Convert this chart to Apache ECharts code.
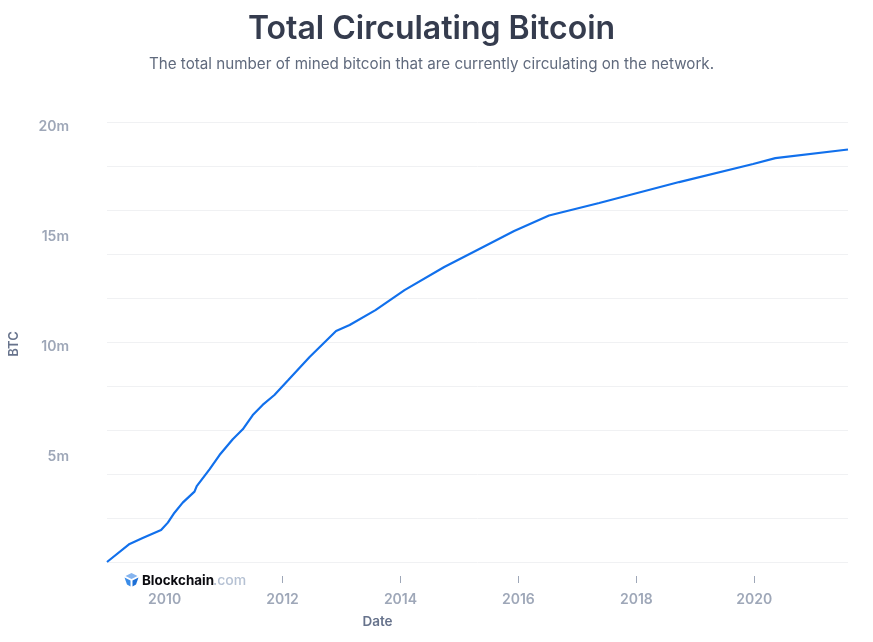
<!DOCTYPE html>
<html>
<head>
<meta charset="utf-8">
<style>
  html, body { margin: 0; padding: 0; background: #fff; }
  #chart { width: 873px; height: 642px; }
</style>
<script src="https://cdn.jsdelivr.net/npm/echarts@6/dist/echarts.min.js"></script>
</head>
<body>
<div id="chart"></div>
<script>
const dates = [
  "2009-01-09", "2009-05-29", "2009-08-18", "2009-12-10", "2010-01-21", "2010-03-03",
  "2010-04-23", "2010-07-05", "2010-07-19", "2010-10-06", "2010-12-07", "2011-02-27",
  "2011-04-30", "2011-07-01", "2011-08-31", "2011-11-12", "2012-02-06", "2012-06-17",
  "2012-11-28", "2013-02-20", "2013-07-30", "2014-01-26", "2014-09-29", "2015-05-04",
  "2015-12-06", "2016-07-09", "2017-05-16", "2018-09-23", "2019-12-25", "2020-05-11",
  "2021-08-04"
];
const btcMillions = [
  0, 0.82, 1.09, 1.45, 1.79, 2.24,
  2.70, 3.20, 3.45, 4.21, 4.86, 5.58,
  6.03, 6.68, 7.14, 7.59, 8.27, 9.32,
  10.5, 10.77, 11.45, 12.36, 13.41, 14.23,
  15.05, 15.75, 16.32, 17.27, 18.09, 18.36,
  18.75
];
const yearLabels = ["2010", "2012", "2014", "2016", "2018", "2020"];
const yearTicks = ["2012", "2014", "2016", "2018", "2020"]; // the 2010 tick sits under the logo
const valueLabels = [5, 10, 15, 20];

const toTime = (d) => new Date(d.length === 4 ? d + "-01-01T00:00:00Z" : d + "T00:00:00Z").getTime();
const xMin = toTime(dates[0]);
const xMax = toTime(dates[dates.length - 1]);
const labelColor = "#9ea7b8";
const nameColor = "#67738c";
const fontFamily = "Inter";

const chart = echarts.init(document.getElementById("chart"));
chart.setOption({
  animation: false,
  title: {
    text: "Total Circulating Bitcoin",
    subtext: "The total number of mined bitcoin that are currently circulating on the network.",
    left: 426.5,
    top: 8,
    textAlign: "center",
    itemGap: 12,
    textStyle: { fontFamily, fontSize: 32, fontWeight: 600, color: "#353c4e" },
    subtextStyle: { fontFamily, fontSize: 15.2, fontWeight: 400, color: "#606a7d" }
  },
  grid: [
    { left: 107, right: 25, top: 122, bottom: 80, outerBoundsMode: "none" },
    // thin strip below the plot, only there to carry the detached ticks
    { left: 107, right: 25, top: 575, height: 1, outerBoundsMode: "none" }
  ],
  xAxis: [
    {
      type: "value",
      min: xMin,
      max: xMax,
      offset: 14,
      splitLine: { show: false },
      axisLine: { show: false },
      axisTick: { show: false },
      axisLabel: {
        customValues: yearLabels.map(toTime),
        formatter: (v) => String(new Date(v).getUTCFullYear()),
        margin: 17,
        fontFamily,
        fontSize: 14,
        fontWeight: 600,
        color: labelColor
      },
      name: "Date",
      nameLocation: "middle",
      nameGap: 39,
      nameTextStyle: { fontFamily, fontSize: 13.5, fontWeight: 600, color: nameColor, padding: [0, 200, 0, 0] }
    },
    {
      type: "value",
      gridIndex: 1,
      min: xMin,
      max: xMax,
      splitLine: { show: false },
      axisLine: { show: false },
      axisTick: {
        show: true,
        length: 7,
        customValues: yearTicks.map(toTime),
        lineStyle: { color: "#9ea7b8", width: 1 }
      },
      axisLabel: { show: false }
    }
  ],
  yAxis: [
    {
      type: "value",
      min: 0,
      max: 20,
      interval: 2,
      splitLine: { show: true, lineStyle: { color: "#f0f1f3", width: 1 } },
      axisLine: { show: false },
      axisTick: { show: false },
      axisLabel: {
        customValues: valueLabels,
        formatter: (v) => v + "m",
        margin: 38,
        verticalAlign: "top",
        lineHeight: 10,
        fontFamily,
        fontSize: 14,
        fontWeight: 600,
        color: labelColor
      },
      name: "BTC",
      nameLocation: "middle",
      nameGap: 86,
      nameTextStyle: { fontFamily, fontSize: 13, fontWeight: 600, color: nameColor, padding: [0, 4, 0, 0] }
    },
    { type: "value", gridIndex: 1, show: false }
  ],
  series: [{
    type: "line",
    data: dates.map((d, i) => [toTime(d), btcMillions[i]]),
    showSymbol: false,
    smooth: false,
    lineStyle: { color: "#1170ec", width: 2.2 }
  }],
  graphic: [
    {
      type: "group",
      left: 124.5,
      top: 573,
      children: [
        { type: "polygon", shape: { points: [[7, 0], [13, 3], [7, 6], [1, 3]] }, style: { fill: "#85b4ef" } },
        { type: "polygon", shape: { points: [[0, 4.5], [6, 7.5], [6, 13.5], [2.5, 11.5]] }, style: { fill: "#3b8ce8" } },
        { type: "polygon", shape: { points: [[14, 4.5], [8, 7.5], [8, 13.5], [11.5, 11.5]] }, style: { fill: "#1c6fd6" } }
      ]
    },
    {
      type: "text",
      left: 142,
      top: 574,
      style: { text: "Blockchain", fontFamily, fontSize: 13.4, fontWeight: 700, fill: "#0b0b10" }
    },
    {
      type: "text",
      left: 213,
      top: 574,
      style: { text: ".com", fontFamily, fontSize: 14, fontWeight: 500, fill: "#b5c1d3" }
    }
  ]
});
</script>
</body>
</html>
